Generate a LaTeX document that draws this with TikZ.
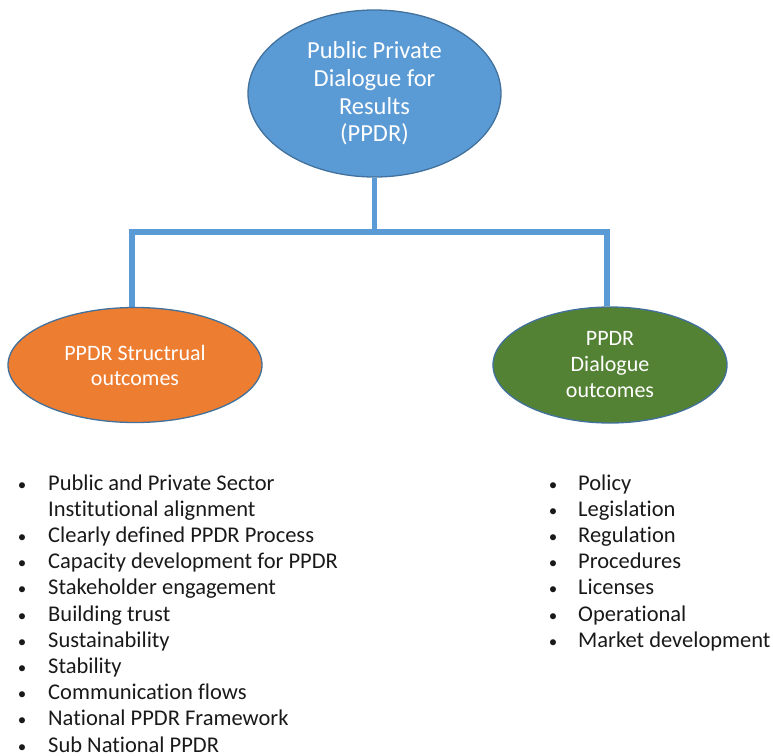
\documentclass[tikz,border=0pt]{standalone}
\usepackage{fontspec}
\setmainfont{Carlito}[Ligatures=NoCommon]
\usetikzlibrary{shapes.geometric,backgrounds}
\definecolor{ppdrblue}{HTML}{5B9BD5}
\definecolor{ppdredge}{HTML}{41719C}
\definecolor{ppdrorange}{HTML}{ED7D31}
\definecolor{ppdrgreen}{HTML}{548235}
\begin{document}
\begin{tikzpicture}[x=1pt,y=-1pt,
  bubble/.style={ellipse, draw=ppdredge, line width=1.3pt, inner sep=0pt, text=white, align=center},
  link/.style={draw=ppdrblue, line width=5.5pt, line join=miter},
  item/.style={anchor=base west, inner sep=0pt, font=\fontsize{22.5}{26}\selectfont, text=black!90},
  dot/.style={anchor=base, inner sep=0pt, font=\fontsize{17}{26}\selectfont, text=black!90}]
\useasboundingbox (0,0) rectangle (773,755);

% the three bubbles
\node[bubble, fill=ppdrblue, minimum width=253pt, minimum height=167pt,
      font=\fontsize{24.5}{27.7}\selectfont] (top) at (374.5,93.5)
      {Public Private\\Dialogue for\\Results\\(PPDR)};
\node[bubble, fill=ppdrorange, minimum width=254pt, minimum height=115pt,
      font=\fontsize{22}{25}\selectfont] (struct) at (135,365)
      {PPDR Structrual\\outcomes};
\node[bubble, fill=ppdrgreen, minimum width=234pt, minimum height=116pt,
      font=\fontsize{22}{26}\selectfont] (dialog) at (610,365)
      {PPDR\\Dialogue\\outcomes};

% branch bar joining them
\coordinate (barL) at (132,232);
\coordinate (barR) at (607,232);
\begin{pgfonlayer}{background}
  \draw[link] (top.south) -- (top.south |- barL);
  \draw[link] (barL |- struct.north) -- (barL) -- (barR) -- (barR |- dialog.north);
\end{pgfonlayer}

% structural outcomes list
\node[dot]  (sd0) at (22,490) {•};
\node[item] (si0) at (48,490) {Public and Private Sector};
\node[item] (si1) at (48,516.2) {Institutional alignment};
\foreach [count=\i from 2] \t in {Clearly defined PPDR Process,
    Capacity development for PPDR, Stakeholder engagement, Building trust,
    Sustainability, Stability, Communication flows, National PPDR Framework,
    Sub National PPDR} {
  \node[dot]  (sd\i) at (22,{490+26.2*\i}) {•};
  \node[item] (si\i) at (48,{490+26.2*\i}) {\t};
}

% dialogue outcomes list
\foreach [count=\i from 0] \t in {Policy, Legislation, Regulation, Procedures,
    Licenses, Operational, Market development} {
  \node[dot]  (dd\i) at (553,{490+26.2*\i}) {•};
  \node[item] (di\i) at (578,{490+26.2*\i}) {\t};
}
\end{tikzpicture}
\end{document}
